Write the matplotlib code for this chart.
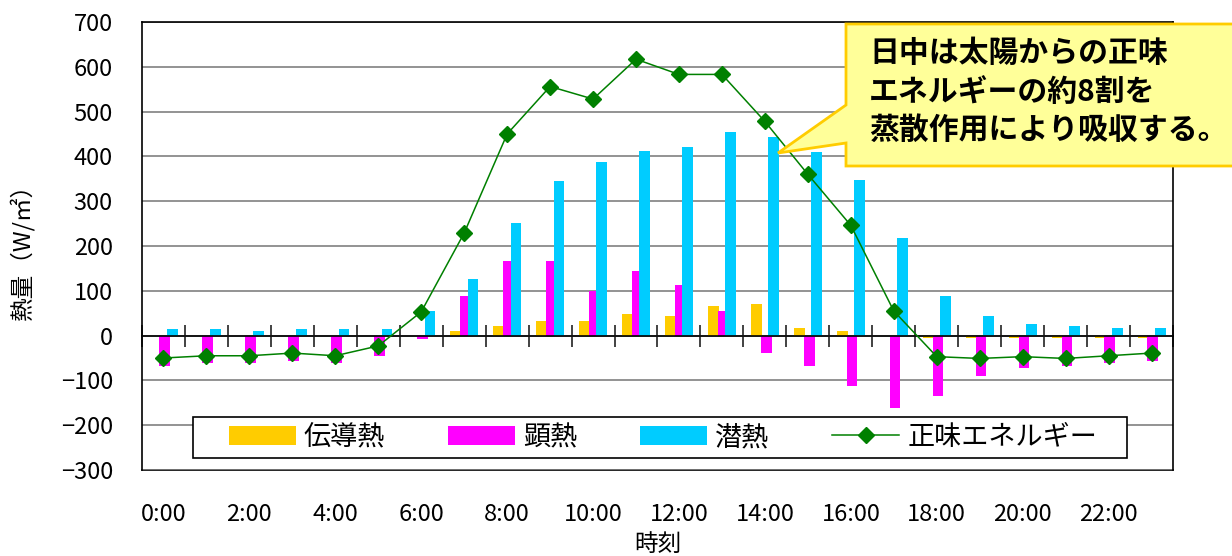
import numpy as np
import matplotlib
matplotlib.use("Agg")
import matplotlib.pyplot as plt
from matplotlib.patches import Polygon, Rectangle

plt.rcParams['font.family'] = ['Noto Sans CJK JP', 'DejaVu Sans']
plt.rcParams['axes.unicode_minus'] = True

# 時刻ごとの熱収支 (W/㎡)
hours = [f"{h}:00" for h in range(24)]
conduction = [0, 0, 0, 0, 0, 0, 0, 10, 22, 33, 33, 49, 44, 67, 71, 16, 11, 0,
              -5, -5, -5, -5, -5, -5]
sensible = [-68, -61, -61, -57, -61, -46, -7, 89, 167, 167, 100, 145, 112, 56,
            -39, -68, -113, -161, -135, -90, -73, -68, -62, -57]
latent = [15, 15, 10, 15, 15, 15, 54, 127, 252, 346, 387, 413, 420, 454, 443,
          409, 347, 217, 89, 44, 27, 22, 16, 16]
net_energy = [-50, -45, -45, -39, -45, -23, 53, 229, 450, 556, 528, 617, 583,
              583, 478, 360, 246, 55, -47, -51, -47, -51, -45, -39]
y_ticks = list(range(-300, 701, 100))
series_names = ["伝導熱", "顕熱", "潜熱", "正味エネルギー"]
callout_lines = ["日中は太陽からの正味", "エネルギーの約8割を", "蒸散作用により吸収する。"]

W, H = 1232, 556
fig = plt.figure(figsize=(W / 100, H / 100), dpi=100)
ax = fig.add_axes([142 / W, 86 / H, 1031 / W, 448 / H])

x = np.arange(len(hours))
bw = 0.25
b1 = ax.bar(x - 0.20, conduction, bw, color="#FFCC00", zorder=2, label=series_names[0])
b2 = ax.bar(x + 0.03, sensible, bw, color="#FF00FF", zorder=2, label=series_names[1])
b3 = ax.bar(x + 0.205, latent, bw, color="#00CCFF", zorder=2, label=series_names[2])
l1, = ax.plot(x, net_energy, color="#008000", lw=1.1, marker="D", ms=8.5,
              zorder=5, label=series_names[3])

ax.set_xlim(-0.5, len(hours) - 0.5)
ax.set_ylim(y_ticks[0], y_ticks[-1])
ax.set_yticks(y_ticks)
ax.yaxis.grid(True, color="#808080", lw=1.2, zorder=0)
ax.set_axisbelow(True)
ax.tick_params(axis="y", length=0, pad=21, labelsize=17)

# category axis crossing at zero with tick marks between categories
ax.spines["bottom"].set_position(("data", 0))
ax.spines["bottom"].set_zorder(3)
ax.set_xticks(np.arange(-0.5, len(hours), 1))
ax.tick_params(axis="x", direction="inout", length=16, width=1.2,
               color="#222222", labelbottom=False)
for s in ["left", "right", "top", "bottom"]:
    ax.spines[s].set_color("black")
    ax.spines[s].set_linewidth(1.2)

sec = ax.secondary_xaxis(0)
sec.set_xticks(x[::2], [hours[i] for i in x[::2]])
sec.tick_params(length=0, pad=24, labelsize=17)
sec.spines["bottom"].set_color("black")
sec.spines["bottom"].set_linewidth(1.2)
sec.set_xlabel("時刻", fontsize=17, labelpad=5)

ax.set_ylabel("熱量（W/㎡）", fontsize=17)
ax.yaxis.set_label_coords(-(142 - 22) / 1031, 0.5)
ax.yaxis.label.set_verticalalignment("center")

# legend box
lx0, lx1, ly0, ly1 = 193, 1127, 417, 458
ax.add_patch(Rectangle(((lx0 - 142) / 1031, (470 - ly1) / 448),
                       (lx1 - lx0) / 1031, (ly1 - ly0) / 448,
                       transform=ax.transAxes, facecolor="white",
                       edgecolor="black", lw=1.2, zorder=6, clip_on=False))
leg = ax.legend([b1, b2, b3, l1], series_names,
                loc="center", bbox_to_anchor=((663 - 142) / 1031,
                                              (470 - (ly0 + ly1) / 2) / 448),
                ncol=4, frameon=False, fontsize=19.5, handlelength=2.47,
                handleheight=0.75, handletextpad=0.3, columnspacing=2.32,
                borderpad=0, borderaxespad=0)
leg.set_zorder(7)

# callout balloon
pts = [(846, 24), (1240, 24), (1240, 166), (846, 166), (846, 143),
       (778, 153), (846, 105)]
fig.patches.append(Polygon([(px / W, 1 - py / H) for px, py in pts],
                           closed=True, transform=fig.transFigure,
                           facecolor="#FFFF99", edgecolor="#FFCC00",
                           lw=2, zorder=10))
for i, line in enumerate(callout_lines):
    fig.text(869 / W, 1 - (53 + 38.5 * i) / H, line, fontsize=21.5,
             fontweight="bold", ha="left", va="center", zorder=11)

fig.savefig("out.png", dpi=100)
